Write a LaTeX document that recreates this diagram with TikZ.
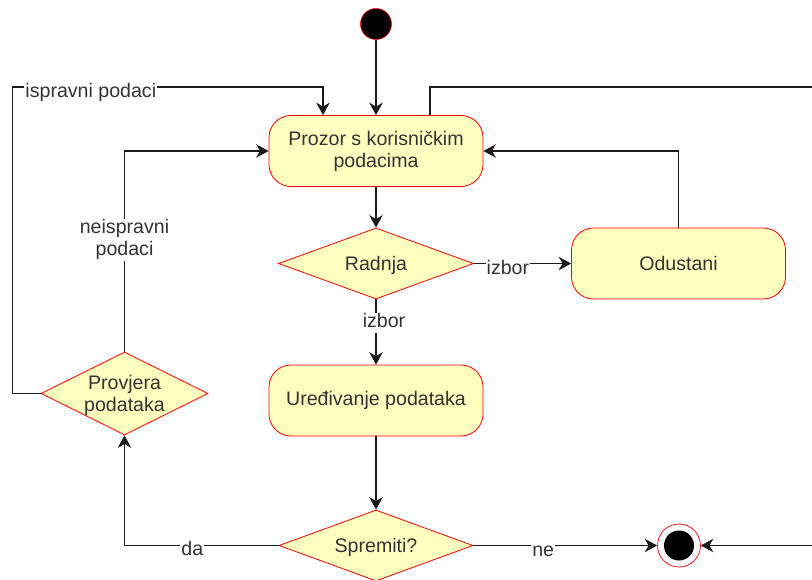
\documentclass[tikz,border=0pt]{standalone}
\usepackage{fontspec}
\setmainfont{Liberation Sans}
\usetikzlibrary{arrows.meta,shapes.geometric}
\definecolor{fillc}{HTML}{FFFFC0}
\definecolor{txt}{HTML}{333333}
\definecolor{edge}{HTML}{1A1A1A}
\begin{document}
\begin{tikzpicture}[x=1pt,y=-1pt,
  every node/.style={font=\fontsize{19.6}{22}\selectfont, text=txt},
  act/.style={draw=red, fill=fillc, rounded corners=22pt, minimum width=214pt, minimum height=71pt, align=center, inner sep=0pt, line width=0.8pt},
  dec/.style={diamond, draw=red, fill=fillc, inner sep=0pt, line width=0.8pt},
  dtext/.style={align=center, text=txt, yshift=-2pt},
  arr/.style={draw=edge, line width=1.1pt, -{Stealth[length=12.5pt,width=13.5pt,inset=4pt]}},
  lbl/.style={fill=white, inner sep=1pt, text height=14pt, text depth=4pt},
  lbltwo/.style={fill=white, inner sep=1pt, align=center},
]
\useasboundingbox (0,0) rectangle (812,580);
\clip (0,0) rectangle (812,580);

\node[circle, fill=black, draw=red, line width=0.6pt, minimum size=31pt, inner sep=0pt] (start) at (376,24) {};
\node[act] (prozor) at (376,151) {Prozor s korisničkim\\podacima};
\node[dec, minimum width=195pt, minimum height=71pt, label={[dtext]center:Radnja}] (radnja) at (376,263.5) {};
\node[act] (odustani) at (678.5,263.5) {Odustani};
\node[act] (ured) at (376,400.5) {Uređivanje podataka};
\node[dec, minimum width=194pt, minimum height=71pt, label={[dtext]center:Spremiti?}] (spremiti) at (376,545.5) {};
\node[dec, minimum width=167pt, minimum height=83pt, label={[dtext]center:Provjera\\podataka}] (provjera) at (124.5,393.5) {};
\node[circle, draw=red, fill=white, line width=0.7pt, minimum size=43pt, inner sep=0pt,
      path picture={\fill[black] (path picture bounding box.center) circle (15pt);}] (end) at (679,545.5) {};

\coordinate (ip) at (323,87);
\coordinate (rt) at (830,87);

\draw[arr] (start) -- (prozor);
\draw[arr] (prozor) -- (radnja);
\draw[arr] (radnja) -- (odustani) node[lbl, pos=0.35, yshift=-6pt] {izbor};
\draw[arr] (odustani.north) |- (prozor.east);
\draw[arr] (radnja) -- (ured) node[lbl, pos=0.36, xshift=8pt] {izbor};
\draw[arr] (ured) -- (spremiti);
\draw[arr] (spremiti.west) -| (provjera.south) node[lbl, pos=0.28, yshift=-5pt] {da};
\draw[arr] (provjera.north) |- (prozor.west) node[lbltwo, pos=0.279] {neispravni\\podaci};
\draw[arr] (provjera.west) -- ++(-28,0) |- (ip) node[lbl, pos=0.626, yshift=-6pt] {ispravni podaci} -- (ip |- prozor.north);
\draw[arr] ([xshift=54pt]prozor.north) |- (rt) |- (end.east);
\draw[arr] (spremiti.east) -- (end.west) node[lbl, pos=0.38, yshift=-6pt] {ne};
\end{tikzpicture}
\end{document}
